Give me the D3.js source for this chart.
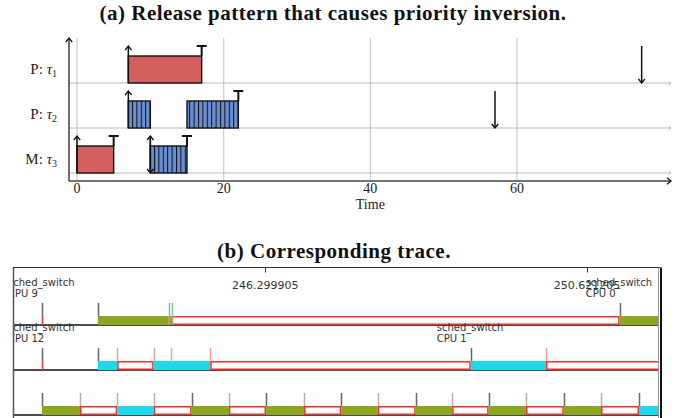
<!DOCTYPE html>
<html>
<head>
<meta charset="utf-8">
<script src="https://cdn.jsdelivr.net/npm/d3@7"></script>
<style>
  body { margin: 0; background: #fff; }
  svg { display: block; }
</style>
</head>
<body>
<svg width="686" height="418"></svg>
<script>
// ---- (a) release pattern ----
const taskModes = ["P", "P", "M"];
const taskIdx = ["1", "2", "3"];
const timeTicks = [0, 20, 40, 60];
// [task, start, end, kind]
const jobs = [
    [0, 7, 17, "red"],
    [1, 7, 10, "blue"],
    [1, 15, 22, "blue"],
    [2, 0, 5, "red"],
    [2, 10, 15, "blue"]
];
const releases = [[0, 7], [1, 7], [2, 0], [2, 10]];
const deadlines = [[0, 77], [1, 57], [2, 10]];
const completions = [[0, 17], [1, 22], [2, 5], [2, 15]];

// ---- (b) trace ----
const traceT0 = 243.299905; // unit 0, units of 0.1 s
const traceTicks = [246.299905, 250.621205];
const rowSegs = [
    [[7.5, 17.0, "green"], [17.0, 17.4, "orange"], [17.4, 77.6, "idle"], [77.6, 83, "green"]],
    [[7.5, 10.1, "cyan"], [10.1, 15, "idle"], [15, 22.6, "cyan"], [22.6, 57.6, "idle"],
     [57.6, 67.7, "cyan"], [67.7, 83, "idle"]],
    [[0, 5.1, "green"], [5.1, 10.1, "idle"], [10.1, 15, "cyan"], [15, 20.1, "idle"],
     [20.1, 25.1, "green"], [25.1, 30.1, "idle"], [30.1, 35.2, "green"], [35.2, 40.2, "idle"],
     [40.2, 45.1, "green"], [45.1, 50.2, "idle"], [50.2, 55.1, "green"], [55.1, 60, "idle"],
     [60, 65, "green"], [65, 70.1, "idle"], [70.1, 75.1, "green"], [75.1, 80.2, "idle"],
     [80.2, 83, "cyan"]]
];
// [u, colour kind, lower part colour]
const rowTicks = [
    [[0, "dark", "red"], [7.5, "dark"], [17.0, "lgreen", "lgreen"], [17.4, "lgreen", "lgreen"], [77.6, "dark"]],
    [[0, "dark", "red"], [7.5, "dark"], [10.1, "salmon"], [15, "brown"], [17.3, "salmon"],
     [22.6, "salmon"], [57.6, "dark"], [67.7, "salmon"]],
    [[0, "dark"], [5.1, "brown"], [10.1, "salmon"], [15, "brown"], [20.1, "dark"], [25.1, "brown"],
     [30.1, "dark"], [35.2, "brown"], [40.2, "dark"], [45.1, "brown"], [50.2, "dark"], [55.1, "brown"],
     [60, "dark"], [65, "brown"], [70.1, "dark"], [75.1, "brown"], [80.2, "dark"]]
];
// [row, u, cpu]
const switchLabels = [[0, 0, "CPU 9"], [0, 77.6, "CPU 0"], [1, 0, "CPU 12"], [1, 57.6, "CPU 1"]];

const jobColor = { red: "#d45f5f", blue: "#6a8ed2" };
const segColor = { green: "#8ba71f", cyan: "#1fd9ea", orange: "#e0602a" };
const tickColor = { dark: "#666", brown: "#c4aaa4", salmon: "#f5a184", lgreen: "#7fbf7f", red: "#ff3030" };

const svg = d3.select("svg");
const serif = "'Liberation Serif', 'DejaVu Serif', serif";
const sans = "'DejaVu Sans', sans-serif";

const defs = svg.append("defs");
const hatch = defs.append("pattern")
    .attr("id", "hatch")
    .attr("patternUnits", "userSpaceOnUse")
    .attr("width", 4.4)
    .attr("height", 10);
hatch.append("rect").attr("width", 4.4).attr("height", 10).attr("fill", jobColor.blue);
hatch.append("line").attr("x1", 0.5).attr("x2", 0.5).attr("y1", 0).attr("y2", 10)
    .attr("stroke", "#111").attr("stroke-width", 1);

function marker(id, color, size) {
    defs.append("marker")
        .attr("id", id)
        .attr("viewBox", "-6 -5 8 10")
        .attr("refX", 0).attr("refY", 0)
        .attr("markerWidth", size).attr("markerHeight", size)
        .attr("markerUnits", "userSpaceOnUse")
        .attr("orient", "auto")
        .append("path")
        .attr("d", "M-5,-4 L0,0 L-5,4")
        .attr("fill", "none")
        .attr("stroke", color)
        .attr("stroke-width", 1.6);
}
marker("arr", "#111", 8);
marker("garr", "#aaa", 5);

// titles
svg.append("text").attr("x", 333).attr("y", 20).attr("text-anchor", "middle")
    .attr("font-family", serif).attr("font-weight", "bold").attr("font-size", 21)
    .attr("letter-spacing", 0.5).attr("fill", "#111")
    .text("(a) Release pattern that causes priority inversion.");
svg.append("text").attr("x", 334).attr("y", 258).attr("text-anchor", "middle")
    .attr("font-family", serif).attr("font-weight", "bold").attr("font-size", 21)
    .attr("letter-spacing", 0.5).attr("fill", "#111")
    .text("(b) Corresponding trace.");

// ---- chart (a) ----
const x = d3.scaleLinear().domain([0, 81]).range([77, 671]);
const y = d3.scalePoint().domain([0, 1, 2]).range([83, 173]);
const axisY = 181, axisX = 69, boxH = 27, arrH = 37;

const ga = svg.append("g");

ga.selectAll("line.vgrid").data(timeTicks).join("line")
    .attr("x1", d => x(d)).attr("x2", d => x(d))
    .attr("y1", 38).attr("y2", axisY)
    .attr("stroke", "#d0d0d0").attr("stroke-width", 1.3);

ga.selectAll("line.hgrid").data(y.domain()).join("line")
    .attr("x1", axisX).attr("x2", 671)
    .attr("y1", d => y(d)).attr("y2", d => y(d))
    .attr("stroke", "#bbb").attr("stroke-width", 1)
    .attr("marker-end", "url(#garr)");

// axes
ga.append("line").attr("x1", axisX).attr("x2", 671).attr("y1", axisY).attr("y2", axisY)
    .attr("stroke", "#444").attr("stroke-width", 1.5).attr("marker-end", "url(#arr)");
ga.append("line").attr("x1", axisX).attr("x2", axisX).attr("y1", axisY).attr("y2", 38)
    .attr("stroke", "#111").attr("stroke-width", 1.2).attr("marker-end", "url(#arr)");

ga.selectAll("text.tick").data(timeTicks).join("text")
    .attr("x", d => x(d)).attr("y", 193).attr("text-anchor", "middle")
    .attr("font-family", serif).attr("font-size", 14).attr("fill", "#222")
    .text(d => d);
ga.append("text").attr("x", x(40)).attr("y", 209).attr("text-anchor", "middle")
    .attr("font-family", serif).attr("font-size", 14).attr("fill", "#222").text("Time");

// row labels
const lab = ga.selectAll("text.row").data(y.domain()).join("text")
    .attr("x", 57).attr("y", d => y(d) - 9).attr("text-anchor", "end")
    .attr("font-family", serif).attr("font-size", 15).attr("fill", "#222");
lab.append("tspan").text(d => taskModes[d] + ": ");
lab.append("tspan").attr("font-style", "italic").text("τ");
lab.append("tspan").attr("font-size", 10).attr("dy", 3).text(d => taskIdx[d]);

// jobs
ga.selectAll("rect.job").data(jobs).join("rect")
    .attr("x", d => x(d[1])).attr("width", d => x(d[2]) - x(d[1]))
    .attr("y", d => y(d[0]) - boxH).attr("height", boxH)
    .attr("fill", d => d[3] === "red" ? jobColor.red : "url(#hatch)")
    .attr("stroke", "#111").attr("stroke-width", 1.4);

// releases
ga.selectAll("line.rel").data(releases).join("line")
    .attr("x1", d => x(d[1])).attr("x2", d => x(d[1]))
    .attr("y1", d => y(d[0])).attr("y2", d => y(d[0]) - arrH)
    .attr("stroke", "#111").attr("stroke-width", 1.5)
    .attr("marker-end", "url(#arr)");

// deadlines
ga.selectAll("line.dl").data(deadlines).join("line")
    .attr("x1", d => x(d[1])).attr("x2", d => x(d[1]))
    .attr("y1", d => y(d[0]) - arrH).attr("y2", d => y(d[0]))
    .attr("stroke", "#111").attr("stroke-width", 1.5)
    .attr("marker-end", "url(#arr)");

// completions
const comp = ga.selectAll("g.comp").data(completions).join("g")
    .attr("transform", d => `translate(${x(d[1])},${y(d[0])})`);
comp.append("line").attr("x1", 0).attr("x2", 0).attr("y1", -boxH).attr("y2", -arrH)
    .attr("stroke", "#111").attr("stroke-width", 2);
comp.append("line").attr("x1", -5).attr("x2", 5).attr("y1", -arrH).attr("y2", -arrH)
    .attr("stroke", "#111").attr("stroke-width", 2);

// ---- chart (b) trace ----
const sec = u => traceT0 + u / 10;
const xt = d3.scaleLinear().domain([traceT0, traceTicks[1]]).range([42, 587]);
const rowBase = [325, 370, 415];
const segH = 9, tickH = 22;
const frameL = 13, frameR = 658, frameT = 267.5;

defs.append("clipPath").attr("id", "tclip").append("rect")
    .attr("x", frameL).attr("y", frameT).attr("width", frameR - frameL).attr("height", 418 - frameT);

const gb = svg.append("g").attr("clip-path", "url(#tclip)");

gb.selectAll("line.base").data(rowBase).join("line")
    .attr("x1", frameL).attr("x2", frameR).attr("y1", d => d).attr("y2", d => d)
    .attr("stroke", "#111").attr("stroke-width", 1.5);

rowSegs.forEach((segs, r) => {
    const base = rowBase[r];
    gb.selectAll(null).data(segs).join("rect")
        .attr("x", d => xt(sec(d[0])) + (d[2] === "idle" ? 0.75 : 0))
        .attr("width", d => xt(sec(d[1])) - xt(sec(d[0])) - (d[2] === "idle" ? 1.5 : 0))
        .attr("y", d => base - segH + (d[2] === "idle" ? 0.75 : 0))
        .attr("height", d => segH - (d[2] === "idle" ? 1.5 : 0))
        .attr("fill", d => d[2] === "idle" ? "#fff" : segColor[d[2]])
        .attr("stroke", d => d[2] === "idle" ? "#ff2a2a" : "none")
        .attr("stroke-width", 1.5);

    const ticks = rowTicks[r];
    gb.selectAll(null).data(ticks).join("line")
        .attr("x1", d => Math.round(xt(sec(d[0]))) + 0.5).attr("x2", d => Math.round(xt(sec(d[0]))) + 0.5)
        .attr("y1", base - tickH).attr("y2", base - segH)
        .attr("stroke", d => tickColor[d[1]]).attr("stroke-width", 1.5);
    gb.selectAll(null).data(ticks.filter(d => d[2])).join("line")
        .attr("x1", d => Math.round(xt(sec(d[0]))) + 0.5).attr("x2", d => Math.round(xt(sec(d[0]))) + 0.5)
        .attr("y1", base - segH).attr("y2", base)
        .attr("stroke", d => tickColor[d[2]]).attr("stroke-width", 1.5);
});

// time ticks on top border
gb.selectAll("line.tt").data(traceTicks).join("line")
    .attr("x1", d => Math.round(xt(d)) + 0.5).attr("x2", d => Math.round(xt(d)) + 0.5)
    .attr("y1", frameT).attr("y2", frameT + 5)
    .attr("stroke", "#333").attr("stroke-width", 1);
gb.selectAll("text.tt").data(traceTicks).join("text")
    .attr("x", d => xt(d)).attr("y", 289).attr("text-anchor", "middle")
    .attr("font-family", sans).attr("font-size", 11).attr("fill", "#333")
    .text(d => d.toFixed(6));

// sched_switch labels
const sl = gb.selectAll("text.sw").data(switchLabels).join("text")
    .attr("font-family", sans).attr("font-size", 10).attr("fill", "#333");
sl.append("tspan")
    .attr("x", d => xt(sec(d[1])) - 34).attr("y", d => rowBase[d[0]] - 39)
    .text("sched_switch");
sl.append("tspan")
    .attr("x", d => xt(sec(d[1])) - 34).attr("y", d => rowBase[d[0]] - 28)
    .text(d => d[2]);

// frame
svg.append("line").attr("x1", frameL).attr("x2", 660).attr("y1", frameT).attr("y2", frameT)
    .attr("stroke", "#333").attr("stroke-width", 1);
svg.append("line").attr("x1", frameL + 0.5).attr("x2", frameL + 0.5).attr("y1", frameT).attr("y2", 418)
    .attr("stroke", "#555").attr("stroke-width", 1.5);
svg.append("line").attr("x1", frameR + 0.5).attr("x2", frameR + 0.5).attr("y1", frameT).attr("y2", 418)
    .attr("stroke", "#999").attr("stroke-width", 1);
svg.append("line").attr("x1", 661).attr("x2", 661).attr("y1", frameT).attr("y2", 418)
    .attr("stroke", "#111").attr("stroke-width", 2);
</script>
</body>
</html>
